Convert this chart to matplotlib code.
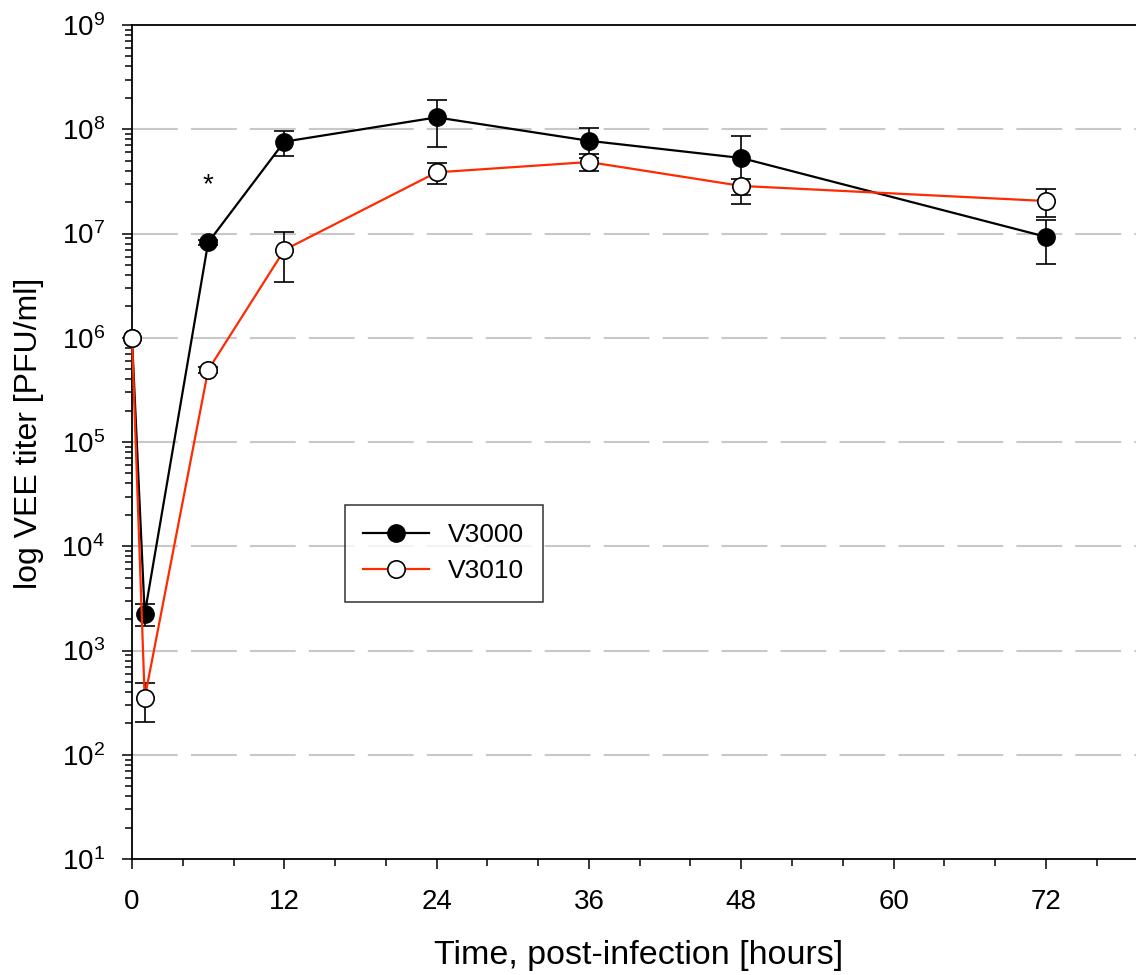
import numpy as np
import matplotlib.pyplot as plt
from matplotlib.ticker import LogLocator, MultipleLocator, NullFormatter

plt.rcParams['font.family'] = ['Liberation Sans', 'DejaVu Sans']
plt.rcParams['mathtext.default'] = 'regular'

# hours post-infection
t_v3000 = [0, 1, 6, 12, 24, 36, 48, 72]
titer_v3000 = [1.0e6, 2.24e3, 8.2e6, 7.6e7, 1.3e8, 7.75e7, 5.3e7, 9.3e6]
err_v3000 = [0, 540, 0.4e6, 2.1e7, 6.2e7, 2.5e7, 3.4e7, 4.2e6]

t_v3010 = [0, 1, 6, 12, 24, 36, 48, 72]
titer_v3010 = [1.0e6, 3.48e2, 4.9e5, 6.95e6, 3.86e7, 4.85e7, 2.86e7, 2.05e7]
err_v3010 = [0, 140, 0.3e5, 3.5e6, 0.9e7, 0.9e7, 0.5e7, 0.6e7]

star_x, star_y = 6, 2.9e7

fig = plt.figure(figsize=(11.36, 9.75), dpi=100)
ax = fig.add_axes([132 / 1136, 116 / 975, 1 - 132 / 1136, 834 / 975])

c1 = ax.errorbar(t_v3000, titer_v3000, yerr=err_v3000, color='black', lw=1.6,
                 marker='o', ms=12.5, mfc='black', mec='black', ecolor='black',
                 elinewidth=1.2, capsize=7, capthick=1.2, zorder=3)
c2 = ax.errorbar(t_v3010, titer_v3010, yerr=err_v3010, color='#ff2a00', lw=1.6,
                 marker='o', ms=12.5, mfc='white', mec='black', mew=1.2,
                 ecolor='black', elinewidth=1.2, capsize=7, capthick=1.2,
                 zorder=4)
c1[0].set_clip_on(False)
c2[0].set_clip_on(False)

ax.text(star_x, star_y, '*', ha='center', va='center', fontsize=20)

ax.set_yscale('log')
ax.set_ylim(10, 1e9)
ax.set_xlim(0, 79.1)
ax.yaxis.set_major_locator(LogLocator(base=10, numticks=20))
ax.yaxis.set_minor_locator(LogLocator(base=10, subs=np.arange(2, 10), numticks=20))
ax.yaxis.set_minor_formatter(NullFormatter())
ax.xaxis.set_major_locator(MultipleLocator(12))
ax.xaxis.set_minor_locator(MultipleLocator(4))

for d in range(2, 9):
    ax.axhline(10.0 ** d, color='#c8c8c8', lw=1.5, dashes=(22, 6.3), zorder=1)

ax.spines['right'].set_visible(False)
for s in ['left', 'bottom', 'top']:
    ax.spines[s].set_linewidth(1.3)

ax.tick_params(axis='both', which='major', length=7.5, width=1.1,
               labelsize=20, direction='out')
ax.tick_params(axis='both', which='minor', length=5, width=1.1, direction='out')
ax.tick_params(axis='x', which='major', pad=14)
ax.tick_params(axis='y', which='major', pad=12)

ax.set_xlabel('Time, post-infection [hours]', fontsize=24.5)
ax.xaxis.set_label_coords(506.5 / 1004, -81 / 834)
ax.set_ylabel('log VEE titer [PFU/ml]', fontsize=23)
ax.yaxis.set_label_coords(-88 / 1004, 0.5 + 9 / 834)

leg = ax.legend(handles=[c1[0], c2[0]], labels=['V3000', 'V3010'],
                loc='upper left', bbox_to_anchor=(213 / 1004, 354 / 834),
                fontsize=19, frameon=True, fancybox=False, edgecolor='black',
                borderpad=0.7, handlelength=2.5, labelspacing=0.45,
                handletextpad=0.7, borderaxespad=0)
leg.get_frame().set_linewidth(1.1)

fig.savefig('out.png', dpi=100)
